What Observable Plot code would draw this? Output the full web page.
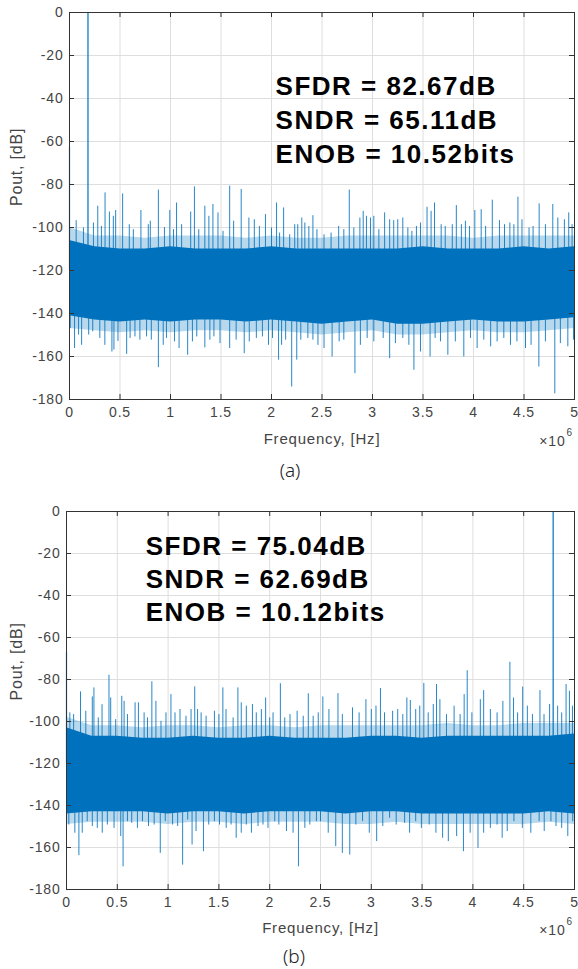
<!DOCTYPE html>
<html><head><meta charset="utf-8">
<script src="https://cdn.jsdelivr.net/npm/d3@7"></script>
<script src="https://cdn.jsdelivr.net/npm/@observablehq/plot@0.6"></script>
<style>
body{margin:0;background:#fff;}
#wrap{position:relative;width:578px;height:969px;overflow:hidden;}
.panel{position:absolute;left:0;}
.cap{position:absolute;left:0;width:578px;text-align:center;font-family:"Noto Sans",sans-serif;font-weight:300;font-size:19px;color:#222;line-height:24px;}
#wrap svg{letter-spacing:0.8px;}
</style></head><body>
<div id="wrap">
<div class="panel" id="pa" style="top:0"></div>
<div class="cap" id="capA" style="top:458px;left:1px"></div>
<div class="panel" id="pb" style="top:499px"></div>
<div class="cap" id="capB" style="top:944px;left:5px"></div>
</div>
<script>
// ---- shared axis data ----
const xTicks = [0, 0.5, 1, 1.5, 2, 2.5, 3, 3.5, 4, 4.5, 5];
const xTickLabels = ["0", "0.5", "1", "1.5", "2", "2.5", "3", "3.5", "4", "4.5", "5"];
const yTicks = [0, -20, -40, -60, -80, -100, -120, -140, -160, -180];
const xLabel = "Frequency, [Hz]";
const yLabel = "Pout, [dB]";
const xExp = "6";
const captions = ["(a)", "(b)"];

// ---- noise-floor envelope (sampled every 0.25 MHz) ----
const bandF = [0, 0.25, 0.5, 0.75, 1, 1.25, 1.5, 1.75, 2, 2.25, 2.5, 2.75, 3, 3.25, 3.5, 3.75, 4, 4.25, 4.5, 4.75, 5];
const coreHiA = [-106,-109,-110,-110,-109,-110,-110,-110,-109,-110,-110,-110,-110,-110,-109,-110,-110,-110,-109,-110,-109];
const coreLoA = [-141,-143,-144,-143,-144,-143,-143,-144,-143,-144,-145,-144,-143,-145,-145,-144,-143,-144,-144,-143,-142];
const fringeHiA = [-100,-104,-104,-105,-104,-104,-104,-105,-104,-105,-105,-104,-104,-104,-104,-104,-105,-104,-104,-104,-104];
const fringeLoA = [-147,-148,-149,-148,-149,-148,-148,-149,-148,-149,-150,-149,-148,-150,-150,-149,-148,-149,-149,-148,-147];
const coreHiB = [-103,-107,-107,-108,-108,-107,-108,-108,-107,-108,-108,-108,-107,-107,-108,-107,-107,-107,-107,-107,-106];
const coreLoB = [-144,-143,-143,-143,-144,-143,-143,-144,-143,-143,-143,-144,-143,-143,-144,-144,-144,-144,-144,-143,-144];
const fringeHiB = [-98,-102,-102,-103,-102,-102,-103,-102,-102,-103,-102,-102,-102,-102,-102,-101,-102,-102,-101,-101,-101];
const fringeLoB = [-149,-148,-148,-148,-149,-148,-148,-149,-148,-148,-148,-149,-149,-148,-149,-149,-149,-149,-149,-148,-149];

// ---- (a) spikes: [freq (MHz), dB] ----
const toneA = [[0, -62.6], [0.183, 0]];
const upA = [[0.066,-96.8],[0.138,-100.2],[0.237,-97.9],[0.28,-90.1],[0.316,-99.5],[0.352,-83.9],[0.395,-92.8],[0.434,-94.8],[0.457,-92.1],[0.526,-84.4],[0.592,-98.7],[0.632,-101],[0.707,-92.1],[0.78,-98.7],[0.8,-97.1],[0.88,-82.6],[0.94,-100],[0.993,-92.1],[1.03,-101],[1.06,-88.6],[1.11,-98.7],[1.2,-92.8],[1.237,-81.1],[1.28,-101],[1.34,-90.1],[1.38,-94.8],[1.42,-89.3],[1.47,-93.2],[1.52,-101.8],[1.586,-80.8],[1.625,-97.1],[1.70,-82.3],[1.776,-95.6],[1.83,-96.4],[1.88,-99.5],[1.94,-94],[2.0,-100.2],[2.05,-88.6],[2.08,-102.6],[2.12,-90.9],[2.18,-103.4],[2.23,-98.7],[2.26,-98.7],[2.3,-95.6],[2.33,-97.9],[2.37,-99.5],[2.41,-94.5],[2.45,-101],[2.52,-103.4],[2.59,-102.6],[2.665,-99.5],[2.716,-101],[2.77,-82.6],[2.815,-100.2],[2.875,-95.6],[2.908,-92.5],[2.94,-94.8],[2.98,-95.6],[3.013,-94.8],[3.063,-101],[3.12,-93.2],[3.17,-96.4],[3.21,-96.8],[3.25,-96.4],[3.3,-95.6],[3.35,-100.2],[3.39,-101.8],[3.435,-99.5],[3.475,-97.9],[3.54,-90.6],[3.58,-92.5],[3.614,-88.6],[3.68,-98.7],[3.72,-99.5],[3.79,-98.7],[3.83,-89.8],[3.88,-98.7],[3.92,-97.1],[3.96,-99.5],[4.013,-92.1],[4.076,-91.7],[4.12,-99.5],[4.186,-87.3],[4.257,-96.8],[4.307,-98.7],[4.36,-97.9],[4.4,-98.7],[4.44,-85.9],[4.48,-96.4],[4.55,-100.2],[4.59,-99.5],[4.65,-89],[4.712,-98.7],[4.785,-89.3],[4.835,-95.6],[4.9,-96.4],[4.943,-93.2],[4.976,-98.7]];
const downA = [[0.007,-147],[0.05,-156.3],[0.09,-150],[0.12,-154.8],[0.19,-150],[0.23,-148.5],[0.30,-151.6],[0.35,-154.8],[0.42,-157.9],[0.44,-157],[0.48,-153],[0.566,-159],[0.6,-151.6],[0.648,-150.9],[0.697,-152.4],[0.763,-150.9],[0.81,-152.4],[0.88,-165.2],[0.928,-154.8],[0.96,-151.6],[1.04,-153.2],[1.085,-156.3],[1.17,-159.4],[1.217,-153.2],[1.26,-150.9],[1.34,-156],[1.39,-152.4],[1.43,-150.9],[1.49,-154],[1.586,-156.3],[1.65,-152.4],[1.73,-158.7],[1.78,-153.2],[1.85,-151.6],[1.91,-150.9],[1.97,-154.8],[2.01,-151.6],[2.07,-161.7],[2.1,-154.8],[2.14,-152.4],[2.2,-174.2],[2.25,-161.7],[2.29,-152.4],[2.36,-151.6],[2.41,-152.4],[2.46,-154.8],[2.52,-156.3],[2.6,-160.2],[2.67,-153.2],[2.716,-152.4],[2.826,-168],[2.88,-154.8],[2.947,-151.6],[3.013,-153.2],[3.106,-151.6],[3.17,-161],[3.227,-154],[3.3,-151.6],[3.36,-154.8],[3.41,-166.4],[3.475,-157.9],[3.57,-160.2],[3.62,-151.6],[3.673,-153.2],[3.746,-159.4],[3.82,-153.2],[3.904,-160.2],[3.97,-151.6],[4.036,-156.3],[4.102,-152.4],[4.17,-155.5],[4.234,-153.2],[4.3,-151.6],[4.366,-154.8],[4.43,-153.2],[4.515,-156.3],[4.57,-154.8],[4.647,-164.9],[4.712,-153.2],[4.805,-177.4],[4.86,-154],[4.934,-155.5],[4.99,-152.4]];

// ---- (b) spikes ----
const toneB = [[0, -67], [4.79, 0]];
const upB = [[0.033,-95.9],[0.07,-96.7],[0.138,-85.9],[0.19,-95.1],[0.254,-88.3],[0.27,-84],[0.313,-98.3],[0.35,-92],[0.418,-78],[0.435,-88.8],[0.484,-99.1],[0.544,-88],[0.567,-90.4],[0.6,-96.7],[0.675,-91.1],[0.708,-91.1],[0.764,-95.9],[0.797,-98.3],[0.84,-81.1],[0.88,-90.4],[0.93,-99.9],[0.979,-95.9],[1.028,-87.2],[1.068,-95.9],[1.117,-94.3],[1.176,-97.5],[1.226,-94.3],[1.262,-83.5],[1.29,-94.3],[1.325,-95.9],[1.374,-97.5],[1.456,-95.1],[1.5,-96.7],[1.539,-84],[1.57,-94.3],[1.64,-98.3],[1.687,-84],[1.72,-91.1],[1.77,-92.7],[1.83,-91.9],[1.868,-95.9],[1.918,-94.3],[1.96,-88.8],[2.0,-98.3],[2.033,-95.9],[2.105,-82],[2.148,-98.3],[2.2,-96.7],[2.27,-95.1],[2.33,-97.5],[2.38,-86.8],[2.428,-97.5],[2.478,-95.9],[2.523,-88.3],[2.583,-94.3],[2.672,-86.7],[2.715,-96.7],[2.815,-93.5],[2.88,-95.9],[2.947,-89.6],[3.0,-94.3],[3.046,-92.7],[3.09,-84.3],[3.13,-95.9],[3.21,-95.1],[3.26,-94.3],[3.31,-96.7],[3.35,-88.8],[3.384,-90],[3.437,-94.3],[3.477,-92.7],[3.517,-81.9],[3.56,-95.9],[3.61,-91.9],[3.642,-82.4],[3.675,-89.6],[3.74,-96.7],[3.815,-92.7],[3.874,-96.7],[3.914,-87.2],[3.944,-75.8],[3.99,-95.9],[4.073,-89.6],[4.106,-85.3],[4.172,-94.3],[4.238,-95.9],[4.295,-90.4],[4.364,-71.8],[4.4,-88.8],[4.44,-95.9],[4.49,-83.6],[4.536,-92.7],[4.586,-96.7],[4.66,-85.3],[4.7,-96.7],[4.755,-91.9],[4.834,-92.7],[4.874,-95.9],[4.917,-82.4],[4.95,-85.6],[4.98,-92.7]];
const downB = [[0.023,-149.3],[0.082,-153.2],[0.122,-163.9],[0.155,-153.2],[0.204,-147.7],[0.254,-150],[0.303,-150.9],[0.352,-153.2],[0.402,-149.3],[0.468,-150.9],[0.534,-154.8],[0.557,-169.2],[0.6,-147.7],[0.642,-148.5],[0.698,-150.9],[0.748,-147.7],[0.807,-150],[0.863,-149.3],[0.923,-162.8],[0.972,-147.7],[1.044,-149.3],[1.094,-150],[1.143,-168.4],[1.193,-146.9],[1.236,-158.8],[1.275,-152.4],[1.348,-162],[1.4,-149.3],[1.456,-147.7],[1.506,-149.3],[1.572,-150.9],[1.62,-149.3],[1.67,-155.6],[1.72,-153.2],[1.77,-149.3],[1.82,-153.2],[1.885,-150],[1.934,-149.3],[1.983,-150.9],[2.05,-147.7],[2.09,-149.3],[2.165,-152.4],[2.23,-153.2],[2.283,-169.2],[2.346,-150.9],[2.395,-149.3],[2.46,-147.7],[2.5,-147.7],[2.576,-153.2],[2.65,-159.6],[2.715,-162.8],[2.788,-163.6],[2.848,-149.3],[2.914,-147.7],[2.98,-153.2],[3.053,-157.2],[3.113,-150],[3.18,-146.1],[3.245,-149.3],[3.328,-148.5],[3.377,-153.2],[3.437,-147.7],[3.493,-150.9],[3.57,-149.3],[3.636,-153.2],[3.702,-155.6],[3.758,-157.2],[3.84,-154.8],[3.907,-162],[3.973,-153.2],[4.05,-160.4],[4.106,-153.2],[4.172,-150.9],[4.238,-149.3],[4.288,-155.6],[4.338,-152.4],[4.404,-147.7],[4.487,-150.9],[4.57,-153.2],[4.652,-147.7],[4.702,-152.4],[4.768,-147.7],[4.818,-150],[4.874,-150.9],[4.934,-154.8],[4.983,-147.7]];

// ---- annotations ----
const metricsA = ["SFDR = 82.67dB", "SNDR = 65.11dB", "ENOB = 10.52bits"];
const metricsB = ["SFDR = 75.04dB", "SNDR = 62.69dB", "ENOB = 10.12bits"];
const annotPosA = {f: 2.04, db: -27.2};
const annotPosB = {f: 0.78, db: -9.4};

const BLUE = "#0072BD";

function panel(o) {
  const H = o.height - o.mt - o.mb;
  const W = 578 - o.ml - o.mr;
  const band = bandF.map((f, i) => ({f, hi: o.coreHi[i], lo: o.coreLo[i], fhi: o.fringeHi[i], flo: o.fringeLo[i]}));
  const toObj = a => a.map(([f, db]) => ({f, db}));
  const svg = Plot.plot({
    width: 578, height: o.height,
    marginTop: o.mt, marginBottom: o.mb, marginLeft: o.ml, marginRight: o.mr,
    style: {fontFamily: "'Liberation Sans', Arial, sans-serif", fontSize: "14px", color: "#444", background: "transparent", overflow: "visible"},
    x: {domain: [0, 5], ticks: xTicks, tickFormat: d => xTickLabels[xTicks.indexOf(d)], tickSize: 0, tickPadding: 8, label: null},
    y: {domain: [-180, 0], ticks: yTicks, tickFormat: d => String(d), tickSize: 0, tickPadding: 6, label: null},
    marks: [
      Plot.ruleX(xTicks, {x: d => d, stroke: "#dedede", strokeWidth: 1}),
      Plot.ruleY(yTicks, {y: d => d, stroke: "#dedede", strokeWidth: 1}),
      Plot.areaY(band, {x: "f", y1: "flo", y2: "fhi", fill: BLUE, fillOpacity: 0.28}),
      Plot.ruleX(toObj(o.up), {x: "f", y1: -120, y2: "db", stroke: BLUE, strokeWidth: 1, strokeOpacity: 0.85}),
      Plot.ruleX(toObj(o.down), {x: "f", y1: -125, y2: "db", stroke: BLUE, strokeWidth: 1, strokeOpacity: 0.85}),
      Plot.ruleX(toObj(o.tone), {x: "f", y1: -120, y2: "db", stroke: BLUE, strokeWidth: 1.2}),
      Plot.areaY(band, {x: "f", y1: "lo", y2: "hi", fill: BLUE}),
      Plot.frame({stroke: "#333", strokeWidth: 1}),
      Plot.tickX(xTicks, {x: d => d, insetTop: H - 5, stroke: "#333"}),
      Plot.tickX(xTicks, {x: d => d, insetBottom: H - 5, stroke: "#333"}),
      Plot.tickY(yTicks, {y: d => d, insetRight: W - 5, stroke: "#333"}),
      Plot.tickY(yTicks, {y: d => d, insetLeft: W - 5, stroke: "#333"}),
      Plot.text([o.metrics.join("\n")], {x: o.annot.f, y: o.annot.db, text: d => d, textAnchor: "start", lineAnchor: "top", lineHeight: o.lh, fontSize: 26, fontWeight: "bold", fill: "#000", fontFamily: "'Liberation Sans', Arial, sans-serif"}),
      Plot.text([xLabel], {frameAnchor: "bottom", lineAnchor: "middle", dy: o.xlDy, fontSize: 15, fill: "#444"}),
      Plot.text([yLabel], {frameAnchor: "left", lineAnchor: "middle", rotate: -90, dx: o.ylDx, fontSize: 16, fill: "#444"}),
      Plot.text(["×10"], {frameAnchor: "bottom-right", textAnchor: "end", lineAnchor: "middle", dx: -9, dy: o.xlDy + 2, fontSize: 14, fill: "#444"}),
      Plot.text([xExp], {frameAnchor: "bottom-right", textAnchor: "start", lineAnchor: "middle", dx: -8, dy: o.xlDy - 7, fontSize: 10, fill: "#444"})
    ]
  });
  svg.querySelectorAll('g[font-weight="bold"]').forEach(g => g.style.letterSpacing = "1.5px");
  return svg;
}

document.getElementById("pa").appendChild(panel({
  height: 455, mt: 12, mb: 56, ml: 69, mr: 4,
  coreHi: coreHiA, coreLo: coreLoA, fringeHi: fringeHiA, fringeLo: fringeLoA,
  up: upA, down: downA, tone: toneA, metrics: metricsA, annot: annotPosA, lh: 1.3,
  xlDy: 40, ylDx: -53
}));
document.getElementById("pb").appendChild(panel({
  height: 446, mt: 12, mb: 56, ml: 66, mr: 4,
  coreHi: coreHiB, coreLo: coreLoB, fringeHi: fringeHiB, fringeLo: fringeLoB,
  up: upB, down: downB, tone: toneB, metrics: metricsB, annot: annotPosB, lh: 1.27,
  xlDy: 39, ylDx: -50
}));
document.getElementById("capA").textContent = captions[0];
document.getElementById("capB").textContent = captions[1];
</script>
</body></html>
